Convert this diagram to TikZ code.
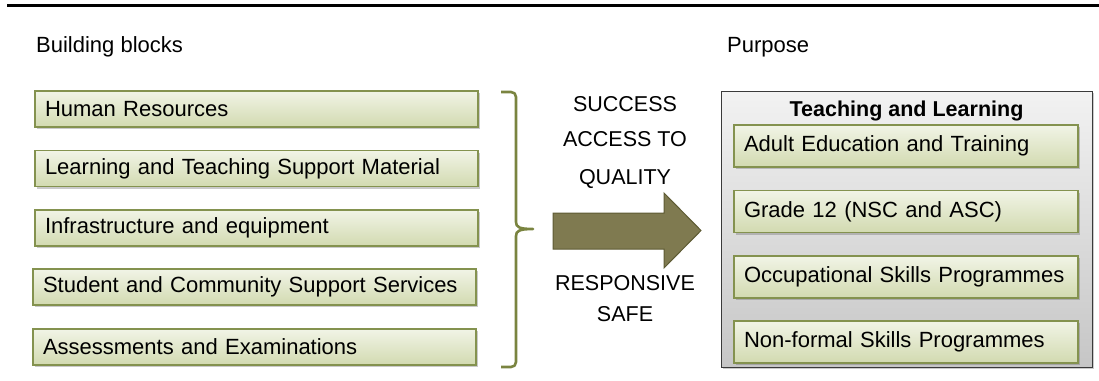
\documentclass[tikz,border=0pt]{standalone}
\usepackage{fontspec}
\setmainfont{Liberation Sans}
\usetikzlibrary{shadows}

\definecolor{boxtop}{HTML}{F1F4E6}
\definecolor{boxbot}{HTML}{D2DAB0}
\definecolor{boxedge}{HTML}{84924F}
\definecolor{bracecol}{HTML}{7A8440}
\definecolor{arrowfill}{HTML}{7F7A50}
\definecolor{arrowedge}{HTML}{5E5B34}
\definecolor{panetop}{HTML}{F2F2F2}
\definecolor{panebot}{HTML}{C6C6C6}
\definecolor{paneedge}{HTML}{3A3A3A}

\tikzset{
  txt/.style={inner sep=0pt, font=\fontsize{22}{26}\selectfont},
  midtxt/.style={inner sep=0pt, anchor=base, font=\fontsize{21.5}{26}\selectfont},
  blockbox/.style={draw=boxedge, line width=1.2pt, top color=boxtop, bottom color=boxbot,
    inner xsep=10pt, inner ysep=0pt, align=left,
    font=\fontsize{22}{26}\selectfont,
    drop shadow={shadow xshift=1.5pt, shadow yshift=-2pt, opacity=0.35, fill=black!60}},
  leftbox/.style={blockbox, text width=423pt, minimum height=36pt},
  rightbox/.style={blockbox, text width=324pt, minimum height=42pt},
  pane/.style={draw=paneedge, line width=1pt, top color=panetop, bottom color=panebot,
    drop shadow={shadow xshift=1.5pt, shadow yshift=-2pt, opacity=0.35, fill=black!60}},
}

\begin{document}
\begin{tikzpicture}[x=1pt, y=-1pt]
  \useasboundingbox (0,0) rectangle (1099,380);

  % rule across the top
  \coordinate (ruleL) at (7,5);
  \coordinate (ruleR) at (1099,5);
  \draw[line width=3pt] (ruleL) -- (ruleR);

  % headings
  \node[txt, anchor=base west] (hbb) at (36,52) {Building blocks};
  \node[txt, anchor=base west] (hpu) at (727,52) {Purpose};

  % building blocks
  \node[leftbox] (b1) at (256.5,109) {Human Resources};
  \node[leftbox] (b2) at (256.5,168.5) {Learning and Teaching Support Material};
  \node[leftbox] (b3) at (256.5,228) {Infrastructure and equipment};
  \node[leftbox] (b4) at (254.5,287) {Student and Community Support Services};
  \node[leftbox] (b5) at (254.5,347) {Assessments and Examinations};

  % brace gathering the blocks
  \draw[bracecol, line width=2.6pt, line join=round]
    (501,92) -- (511,92) .. controls (514,92) and (516,94) .. (516,97)
    -- (516,222) .. controls (516,227) and (519,229) .. (533,229)
    .. controls (519,229) and (516,231) .. (516,236)
    -- (516,362) .. controls (516,365) and (514,367) .. (511,367) -- (501,367);

  % words around the arrow
  \node[midtxt] (w1) at (625,111.5) {SUCCESS};
  \node[midtxt] (w2) at (625,146.5) {ACCESS TO};
  \node[midtxt] (w3) at (625,184) {QUALITY};
  \node[midtxt] (w4) at (625,290) {RESPONSIVE};
  \node[midtxt] (w5) at (625,321.5) {SAFE};

  % block arrow
  \draw[arrowedge, fill=arrowfill, line width=1pt, line join=miter]
    (553,213) -- (664,213) -- (664,193) -- (701,230.5) -- (664,268)
    -- (664,249) -- (553,249) -- cycle;

  % purpose pane
  \draw[pane] (721,91) rectangle (1092,367);
  \node[inner sep=0pt, anchor=base, font=\bfseries\fontsize{21.5}{26}\selectfont] (tl) at (906.5,116) {Teaching and Learning};

  \node[rightbox] (r1) at (906,146) {Adult Education and Training};
  \node[rightbox] (r2) at (906,211.5) {Grade 12 (NSC and ASC)};
  \node[rightbox] (r3) at (906,277) {Occupational Skills Programmes};
  \node[rightbox] (r4) at (906,342) {Non-formal Skills Programmes};
\end{tikzpicture}
\end{document}
